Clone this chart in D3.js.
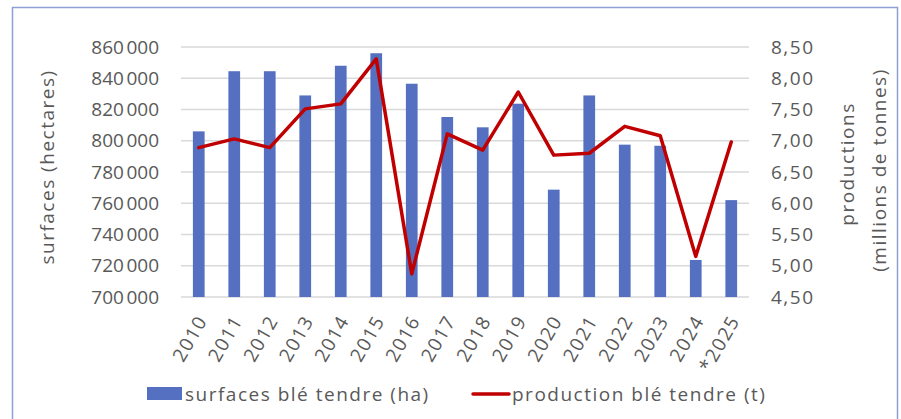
<!DOCTYPE html>
<html>
<head>
<meta charset="utf-8">
<script src="https://cdn.jsdelivr.net/npm/d3@7"></script>
<style>
  body { margin: 0; background: #fff; }
  text { font-family: "Open Sans", sans-serif; fill: #595959; letter-spacing: 1.5px; }
</style>
</head>
<body>
<svg id="chart"></svg>
<script>
// data
const years = ["2010","2011","2012","2013","2014","2015","2016","2017","2018","2019","2020","2021","2022","2023","2024","*2025"];
const surfaces = [806000, 844500, 844500, 829000, 848000, 856000, 836500, 815200, 808600, 823700, 768700, 829000, 797500, 796800, 723700, 762000];
const production = [6.89, 7.03, 6.89, 7.51, 7.59, 8.31, 4.87, 7.11, 6.85, 7.78, 6.77, 6.80, 7.23, 7.08, 5.15, 6.98];
const leftTicks = [700000, 720000, 740000, 760000, 780000, 800000, 820000, 840000, 860000];
const rightTicks = [4.5, 5, 5.5, 6, 6.5, 7, 7.5, 8, 8.5];

const width = 901, height = 419;
const margin = {top: 47, right: 152, bottom: 122, left: 181};
const innerW = width - margin.left - margin.right;
const innerH = height - margin.top - margin.bottom;

const fr = d3.formatLocale({decimal: ",", thousands: "\u202f", grouping: [3], currency: ["", " €"]});

const svg = d3.select("#chart")
    .attr("width", width)
    .attr("height", height);

// outer frame
svg.append("rect")
    .attr("x", 12.5).attr("y", 7.5)
    .attr("width", 885).attr("height", 430)
    .attr("fill", "none")
    .attr("stroke", "#8e9fd6")
    .attr("stroke-width", 1.5);

const g = svg.append("g")
    .attr("transform", `translate(${margin.left},${margin.top})`);

const x = d3.scaleBand()
    .domain(years)
    .range([0, innerW])
    .paddingInner(0.67)
    .paddingOuter(0.335);

const xc = d3.scalePoint()
    .domain(years)
    .range([0, innerW])
    .padding(0.5);

const yL = d3.scaleLinear().domain([700000, 860000]).range([innerH, 0]);
const yR = d3.scaleLinear().domain([4.5, 8.5]).range([innerH, 0]);

// gridlines
g.append("g")
    .selectAll("line")
    .data(leftTicks)
    .join("line")
    .attr("x1", 0).attr("x2", innerW)
    .attr("y1", d => yL(d)).attr("y2", d => yL(d))
    .attr("stroke", "#d9d9d9")
    .attr("stroke-width", 1.5);

// bars
g.append("g")
    .selectAll("rect")
    .data(surfaces)
    .join("rect")
    .attr("x", (d, i) => x(years[i]))
    .attr("y", d => yL(d))
    .attr("width", x.bandwidth())
    .attr("height", d => innerH - yL(d))
    .attr("fill", "#5570c1");

// line
const line = d3.line()
    .x((d, i) => xc(years[i]))
    .y(d => yR(d));

g.append("path")
    .datum(production)
    .attr("d", line)
    .attr("fill", "none")
    .attr("stroke", "#c00000")
    .attr("stroke-width", 3.5)
    .attr("stroke-linejoin", "round")
    .attr("stroke-linecap", "round");

// left axis
const leftAxis = g.append("g")
    .call(d3.axisLeft(yL).tickValues(leftTicks).tickFormat(fr.format(",")).tickSize(0).tickPadding(22));
leftAxis.select(".domain").remove();
leftAxis.selectAll("text").style("font-size", "19px");

// right axis
const rightAxis = g.append("g")
    .attr("transform", `translate(${innerW},0)`)
    .call(d3.axisRight(yR).tickValues(rightTicks).tickFormat(fr.format(".2f")).tickSize(0).tickPadding(22));
rightAxis.select(".domain").remove();
rightAxis.selectAll("text").style("font-size", "19px");

// x axis
const xAxis = g.append("g")
    .attr("transform", `translate(0,${innerH})`)
    .call(d3.axisBottom(xc).tickSize(0));
xAxis.select(".domain").remove();
xAxis.selectAll("text")
    .style("font-size", "19px")
    .attr("text-anchor", "end")
    .attr("dy", "0.35em")
    .attr("transform", "translate(3,20) rotate(-60)")
    .attr("x", 0).attr("y", 0);

// axis titles
svg.append("text")
    .attr("transform", `translate(54,167) rotate(-90)`)
    .attr("text-anchor", "middle")
    .style("font-size", "19px")
    .text("surfaces (hectares)");

svg.append("text")
    .attr("transform", `translate(854,164) rotate(-90)`)
    .attr("text-anchor", "middle")
    .style("font-size", "19px")
    .text("productions");

svg.append("text")
    .attr("transform", `translate(886,170) rotate(-90)`)
    .attr("text-anchor", "middle")
    .style("font-size", "19px")
    .text("(millions de tonnes)");

// legend
const legend = svg.append("g");
legend.append("rect")
    .attr("x", 147).attr("y", 387)
    .attr("width", 35).attr("height", 13)
    .attr("fill", "#5570c1");
legend.append("text")
    .attr("x", 185).attr("y", 394)
    .attr("dy", "0.35em")
    .style("font-size", "19px")
    .text("surfaces blé tendre (ha)");
legend.append("line")
    .attr("x1", 473).attr("x2", 509)
    .attr("y1", 394).attr("y2", 394)
    .attr("stroke", "#c00000")
    .attr("stroke-width", 3.5)
    .attr("stroke-linecap", "round");
legend.append("text")
    .attr("x", 512).attr("y", 394)
    .attr("dy", "0.35em")
    .style("font-size", "19px")
    .text("production blé tendre (t)");
</script>
</body>
</html>
